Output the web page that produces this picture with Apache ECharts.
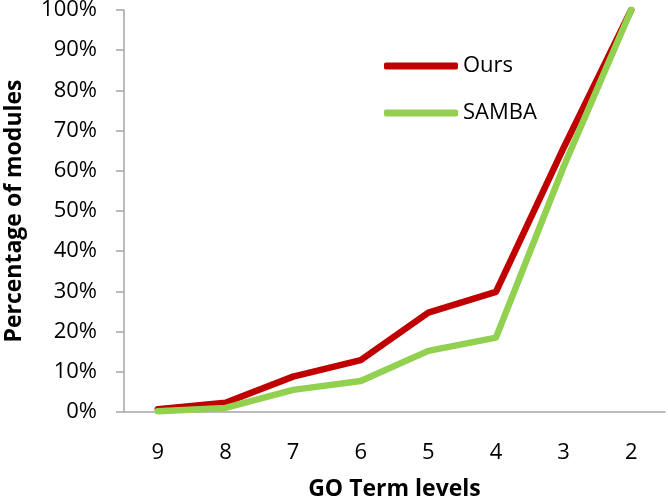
<!DOCTYPE html>
<html>
<head>
<meta charset="utf-8">
<script src="https://cdn.jsdelivr.net/npm/echarts@6/dist/echarts.min.js"></script>
<style>
html,body{margin:0;padding:0;background:#fff;}
#c{width:668px;height:501px;}
</style>
</head>
<body>
<div id="c"></div>
<script>
var categories = ['9', '8', '7', '6', '5', '4', '3', '2'];
var ours = [0.7, 2.3, 8.8, 12.9, 24.7, 29.9, 65.7, 100];
var samba = [0.2, 1.0, 5.5, 7.7, 15.2, 18.5, 61.0, 100];
var yTicks = [0, 10, 20, 30, 40, 50, 60, 70, 80, 90, 100];

var FONT = '"Open Sans", sans-serif';
var chart = echarts.init(document.getElementById('c'), null, {renderer: 'canvas'});
chart.setOption({
  animation: false,
  backgroundColor: '#ffffff',
  grid: {left: 124, right: 3, top: 10, bottom: 89, containLabel: false, outerBoundsMode: 'none'},
  legend: {
    orient: 'vertical',
    left: 384,
    top: 54,
    padding: 0,
    itemWidth: 74,
    itemHeight: 7,
    itemGap: 23,
    icon: 'roundRect',
    textStyle: {fontFamily: FONT, fontSize: 22, lineHeight: 24, color: '#000'},
    data: [
      {name: 'Ours', itemStyle: {color: '#C00000'}},
      {name: 'SAMBA', itemStyle: {color: '#92D050'}}
    ]
  },
  xAxis: {
    type: 'category',
    data: categories,
    boundaryGap: true,
    axisLine: {show: true, lineStyle: {color: '#A6A6A6', width: 1.5}},
    axisTick: {show: false},
    axisLabel: {fontFamily: FONT, fontSize: 22, color: '#000', margin: 30},
    name: 'GO Term levels',
    nameLocation: 'middle',
    nameGap: 66,
    nameTextStyle: {fontFamily: FONT, fontSize: 23, fontWeight: 'bold', color: '#000'}
  },
  yAxis: {
    type: 'value',
    min: 0,
    max: 100,
    interval: 10,
    axisLine: {show: true, lineStyle: {color: '#A6A6A6', width: 1.5}},
    axisTick: {show: true, inside: false, length: 8, lineStyle: {color: '#A6A6A6', width: 1.5}},
    splitLine: {show: false},
    axisLabel: {
      fontFamily: FONT, fontSize: 22, color: '#000', margin: 27,
      formatter: function (v) { return yTicks.indexOf(v) >= 0 ? v + '%' : ''; }
    },
    name: 'Percentage of modules',
    nameLocation: 'middle',
    nameGap: 98,
    nameRotate: 90,
    nameTextStyle: {fontFamily: FONT, fontSize: 23, fontWeight: 'bold', color: '#000'}
  },
  series: [
    {
      name: 'Ours', type: 'line', data: ours, symbol: 'none',
      lineStyle: {color: '#C00000', width: 6.5, cap: 'round', join: 'round'},
      itemStyle: {color: '#C00000'}
    },
    {
      name: 'SAMBA', type: 'line', data: samba, symbol: 'none',
      lineStyle: {color: '#92D050', width: 6.5, cap: 'round', join: 'round'},
      itemStyle: {color: '#92D050'}
    }
  ]
});
</script>
</body>
</html>
